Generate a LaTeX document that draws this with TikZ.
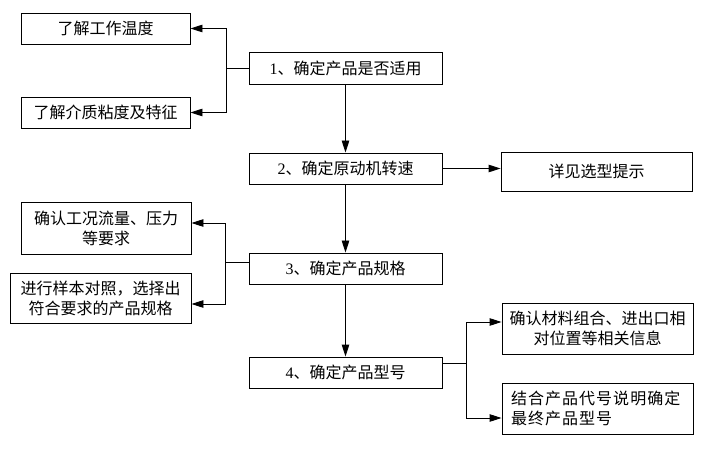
\documentclass[tikz,border=0pt]{standalone}
\usepackage{fontspec}
\setmainfont{Noto Sans CJK SC}
\newfontfamily\numfont{Liberation Serif}
\usetikzlibrary{arrows.meta}
\begin{document}
\begin{tikzpicture}[x=1pt,y=-1pt,
  box/.style={draw,line width=0.9pt,rectangle,inner sep=0pt,align=center,
    font=\fontsize{16}{20}\selectfont},
  conn/.style={line width=0.9pt},
  arr/.style={line width=0.9pt,-{Triangle[length=12pt,width=7.5pt]}}]
\useasboundingbox (0,0) rectangle (714,454);
\node[box,minimum width=169pt,minimum height=31pt] (A) at (105.5,28.5) {了解工作温度};
\node[box,minimum width=169pt,minimum height=31pt] (B) at (105.5,112.5) {了解介质粘度及特征};
\node[box,minimum width=193pt,minimum height=32pt] (S1) at (345.5,68) {{\numfont 1}、确定产品是否适用};
\node[box,minimum width=193pt,minimum height=31pt] (S2) at (345.5,168.5) {{\numfont 2}、确定原动机转速};
\node[box,minimum width=191pt,minimum height=39pt] (R) at (596.5,171.5) {详见选型提示};
\node[box,minimum width=170pt,minimum height=52pt] (C) at (106,228) {确认工况流量、压力\\等要求};
\node[box,minimum width=181pt,minimum height=50pt] (D) at (100.5,298) {进行样本对照，选择出\\符合要求的产品规格};
\node[box,minimum width=193pt,minimum height=31pt] (S3) at (345.5,268.5) {{\numfont 3}、确定产品规格};
\node[box,minimum width=193pt,minimum height=31pt] (S4) at (345.5,372.5) {{\numfont 4}、确定产品型号};
\node[box,minimum width=191pt,minimum height=51pt] (E) at (597.5,328.5) {确认材料组合、进出口相\\对位置等相关信息};
\node[box,minimum width=191pt,minimum height=51pt,align=left,text width=173pt,inner xsep=9pt] (F) at (597.5,408.5) {\addfontfeature{LetterSpace=6.5}结合产品代号说明确定\\最终产品型号};
% junctions
\coordinate (j1) at (226,68);
\coordinate (j3) at (225,262);
\coordinate (s4o) at (S4.east |- 0,363);
\coordinate (j4) at (466,363);
% step 1 branches
\draw[conn] (S1.west) -- (j1);
\draw[arr] (j1) |- (A.east);
\draw[arr] (j1) |- (B.east);
% main flow
\draw[arr] (S1.south) -- (S2.north);
\draw[arr] (S2.south) -- (S3.north);
\draw[arr] (S3.south) -- (S4.north);
\draw[arr] (S2.east) -- (S2.east -| R.west);
% step 3 branches
\draw[conn] (S3.west |- j3) -- (j3);
\draw[arr] (j3) |- (C.east |- 0,223);
\draw[arr] (j3) |- (D.east |- 0,304);
% step 4 branches
\draw[conn] (s4o) -- (j4);
\draw[arr] (j4) |- (E.west |- 0,322);
\draw[arr] (j4) |- (F.west |- 0,418);
\end{tikzpicture}
\end{document}
